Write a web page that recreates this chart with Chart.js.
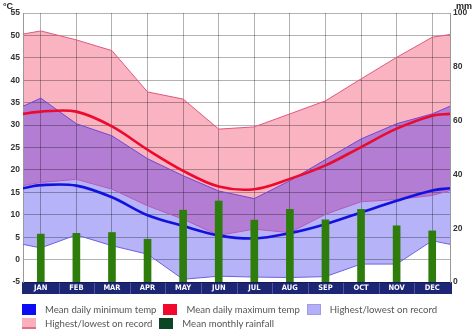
<!DOCTYPE html>
<html><head><meta charset="utf-8">
<script src="https://cdn.jsdelivr.net/npm/chart.js@4"></script>
<style>
html,body{margin:0;padding:0;background:#fff;}
#wrap{position:relative;width:474px;height:335px;overflow:hidden;background:#fff;}
canvas{position:absolute;left:0;top:0;}
.unit{position:absolute;font:bold 9px "Liberation Sans",Arial,sans-serif;color:#222;}
#legend{position:absolute;left:22px;top:303px;width:450px;display:flex;flex-wrap:wrap;font:9.6px Lato,sans-serif;color:#555;}
.item{display:flex;align-items:center;height:13.5px;margin-right:7px;white-space:nowrap;}
.box{width:14px;height:11px;margin-right:9px;box-sizing:border-box;}
</style></head><body>
<div id="wrap">
<canvas id="c" width="474" height="335"></canvas>
<div class="unit" style="left:3px;top:1px">°C</div>
<div class="unit" style="left:456px;top:1px">mm</div>
<div id="legend"></div>
</div>
<script>
// ---- data ----
const months = ['JAN','FEB','MAR','APR','MAY','JUN','JUL','AUG','SEP','OCT','NOV','DEC'];
// line series: first and last values are the values read at the left/right chart edges
const xPoints   = [0.5, 1, 2, 3, 4, 5, 6, 7, 8, 9, 10, 11, 12, 12.5];
const meanMax   = [32.5, 33, 33, 29.7, 24.5, 19.8, 16.3, 15.7, 18, 21, 25.1, 29.2, 32.1, 32.5];
const meanMin   = [15.9, 16.6, 16.5, 13.9, 9.9, 7.5, 5.4, 4.7, 5.9, 7.9, 10.5, 13.1, 15.4, 15.9];
const maxRecHigh = [50.3, 51, 49, 46.6, 37.4, 35.8, 29.1, 29.6, 32.5, 35.4, 40.3, 45.1, 49.6, 50.2];
const maxRecLow  = [16.5, 17.2, 17.9, 15.7, 12, 9, 5.4, 6.8, 6, 10.1, 12.9, 13.4, 14.3, 15.4];
const minRecHigh = [34.2, 36, 30.3, 27.6, 22.5, 18.7, 15.3, 13.6, 17.6, 22.3, 26.9, 30.3, 32.5, 34.2];
const minRecLow  = [3.4, 2.6, 5.5, 3.1, 1.2, -4.4, -3.7, -3.9, -4, -3.8, -1, -1, 4.2, 3.4];
const rainfall   = [17.8, 18.1, 18.4, 15.9, 26.7, 30.1, 23, 27, 23.1, 27, 20.9, 19];
const tempTicks = {min: -5, max: 55, step: 5};
const rainTicks = {min: 0, max: 100, step: 20};
const legendLabels = ['Mean daily minimum temp','Mean daily maximum temp','Highest/lowest on record','Highest/lowest on record','Mean monthly rainfall'];

// ---- styles ----
const C = {
  pink:'#f9b3c1', lav:'#b6b3f9', purple:'#b27dd3',
  pinkLine:'#e0577e', purpleLine:'#7a45cf', lowMaxLine:'#b85bb8', lowMinLine:'#6f5fe0',
  red:'#ec0a2e', blue:'#1212de', green:'#2e7d0c'
};
const legendBoxes = [
  'background:#0d0df5',
  'background:#f00a2e',
  'background:#b4b0f8;border:1px solid #a09be8',
  'background:#f9b0bc;border-bottom:2px solid #dd7088',
  'background:#0b4524'
];
const lg = document.getElementById('legend');
legendLabels.forEach((t,i)=>{
  const it=document.createElement('div'); it.className='item';
  const b=document.createElement('span'); b.className='box'; b.style.cssText=legendBoxes[i];
  const s=document.createElement('span'); s.textContent=t;
  it.appendChild(b); it.appendChild(s); lg.appendChild(it);
});

const pts = arr => arr.map((v,i)=>({x:xPoints[i], y:v}));
const gridColor = 'rgba(0,0,0,0.3)';
const tickFont = {family:'"Liberation Sans", Arial, sans-serif', size:8.5, weight:'bold'};

const bandPlugin = {
  id:'band',
  beforeDraw(chart){
    const {ctx, chartArea:a} = chart; const xs = chart.scales.x;
    ctx.save();
    ctx.fillStyle='#1c2674';
    ctx.fillRect(a.left-1, a.bottom, a.right-a.left+3, 12);
    ctx.strokeStyle='#4b56a3'; ctx.lineWidth=1;
    for(let k=1;k<months.length;k++){
      const px=Math.round(xs.getPixelForValue(k+0.5))+0.5;
      ctx.beginPath(); ctx.moveTo(px,a.bottom+1); ctx.lineTo(px,a.bottom+12); ctx.stroke();
    }
    ctx.restore();
  }
};

const lineBase = {type:'line', pointRadius:0, borderWidth:1, tension:0, fill:false, yAxisID:'y'};

new Chart(document.getElementById('c'), {
  data:{datasets:[
    {type:'bar', data:rainfall.map((v,i)=>({x:i+1,y:v})), yAxisID:'y2', backgroundColor:C.green, barThickness:7, order:0},
    {...lineBase, data:pts(meanMax), borderColor:C.red, borderWidth:2.6, tension:0.35, order:1},
    {...lineBase, data:pts(meanMin), borderColor:C.blue, borderWidth:2.6, tension:0.35, order:1},
    {...lineBase, data:pts(minRecHigh), borderWidth:0, borderColor:'rgba(0,0,0,0)', fill:{target:5}, backgroundColor:C.purple, order:3},
    {...lineBase, data:pts(minRecHigh), borderColor:C.purpleLine, fill:{target:6}, backgroundColor:C.lav, order:4},
    {...lineBase, data:pts(maxRecLow), borderColor:C.lowMaxLine, order:5},
    {...lineBase, data:pts(minRecLow), borderColor:C.lowMinLine, order:5},
    {...lineBase, data:pts(maxRecHigh), borderColor:C.pinkLine, fill:{target:5}, backgroundColor:C.pink, order:6}
  ]},
  options:{
    responsive:false, animation:false, devicePixelRatio:1,
    layout:{padding:{left:0,right:0,top:13,bottom:41}},
    plugins:{legend:{display:false}, tooltip:{enabled:false}, filler:{drawTime:'beforeDraw', propagate:false}},
    scales:{
      x:{type:'linear', min:0.5, max:12.5, offset:false,
         afterBuildTicks:s=>{s.ticks=months.map((m,i)=>({value:i+1}));},
         afterFit:s=>{s.height=12;},
         grid:{color:gridColor, drawTicks:false, offset:false}, border:{display:false},
         ticks:{color:'#fff', padding:2, autoSkip:false, maxRotation:0,
                font:{family:'"DejaVu Sans Condensed","Liberation Sans",sans-serif', size:7.5, weight:'bold'},
                callback:v=>months[v-1]||''}},
      y:{position:'left', min:tempTicks.min, max:tempTicks.max,
         afterFit:s=>{s.width=23;},
         ticks:{stepSize:tempTicks.step, color:'#333', font:tickFont, padding:3},
         grid:{color:gridColor, drawTicks:false}, border:{color:'#999'}},
      y2:{position:'right', min:rainTicks.min, max:rainTicks.max,
         afterFit:s=>{s.width=24;},
         ticks:{stepSize:rainTicks.step, color:'#333', font:tickFont, padding:3},
         grid:{display:false, drawTicks:false}, border:{color:'#999'}}
    }
  },
  plugins:[bandPlugin]
});
</script>
</body></html>
